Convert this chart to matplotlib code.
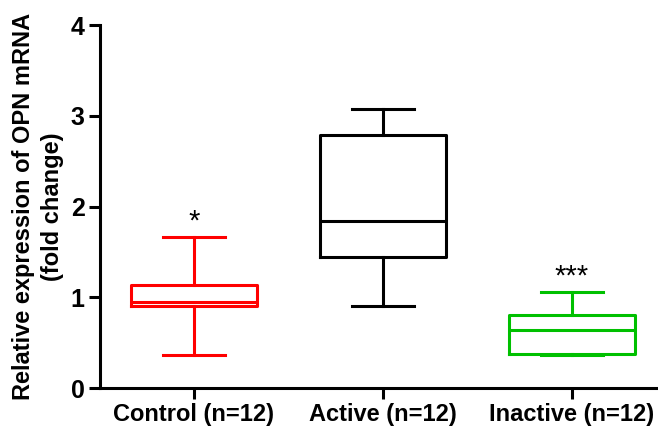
import matplotlib
matplotlib.use('Agg')
import matplotlib.pyplot as plt
from matplotlib import rcParams

rcParams['font.family'] = 'sans-serif'
rcParams['font.sans-serif'] = ['Liberation Sans']
rcParams['font.weight'] = 'bold'

groups = ['Control (n=12)', 'Active (n=12)', 'Inactive (n=12)']
whislo = [0.36, 0.90, 0.37]
q1 = [0.90, 1.45, 0.38]
med = [0.95, 1.84, 0.64]
q3 = [1.14, 2.79, 0.80]
whishi = [1.66, 3.08, 1.06]
colors = ['#ff0000', '#000000', '#00c000']
marks = ['*', '', '***']

fig = plt.figure(figsize=(6.58, 4.26), dpi=100)
ax = fig.add_axes([0.152, 0.089, 0.848, 0.852])

for i, name in enumerate(groups):
    stats = [{'label': name, 'whislo': whislo[i], 'q1': q1[i], 'med': med[i],
              'q3': q3[i], 'whishi': whishi[i], 'fliers': []}]
    style = dict(color=colors[i], linewidth=2.2)
    ax.bxp(stats, positions=[i], widths=0.67, capwidths=0.33,
           showfliers=False, boxprops=style, whiskerprops=style,
           capprops=style, medianprops=style, manage_ticks=False)
    if marks[i]:
        ax.text(i, whishi[i] + 0.02, marks[i], ha='center', va='bottom',
                fontsize=21, fontweight='normal')

ax.set_xlim(-0.497, 2.455)
ax.set_ylim(0, 4)
ax.set_xticks(range(len(groups)))
ax.set_xticklabels(groups, fontsize=17, fontweight='bold')
ax.set_yticks([0, 1, 2, 3, 4])
ax.set_yticklabels(['0', '1', '2', '3', '4'], fontsize=18, fontweight='bold')
ax.set_ylabel('Relative expression of OPN mRNA\n(fold change)',
              fontsize=17, fontweight='bold', linespacing=1.33, labelpad=5)
ax.spines['top'].set_visible(False)
ax.spines['right'].set_visible(False)
ax.spines['left'].set_linewidth(2.2)
ax.spines['bottom'].set_linewidth(2.2)
ax.tick_params(direction='out', length=8, width=2.2)
ax.tick_params(axis='x', pad=3)
ax.tick_params(axis='y', pad=3)

fig.savefig('out.png', dpi=100)
